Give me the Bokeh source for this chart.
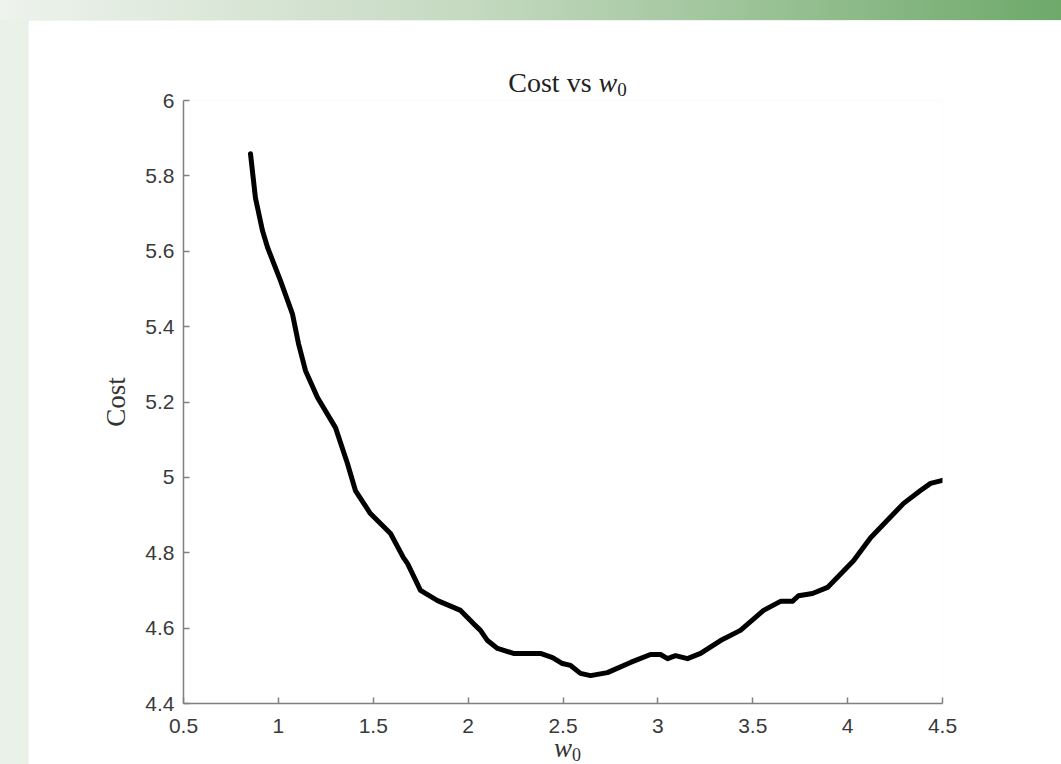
from bokeh.plotting import figure
from bokeh.models import Range1d, FixedTicker, Column, Div
from bokeh.embed import file_html
from bokeh.resources import INLINE

# ---- data ----
w0 = [0.853, 0.879, 0.916, 0.943, 1.011, 1.074, 1.106, 1.143, 1.206, 1.301,
      1.364, 1.406, 1.485, 1.591, 1.659, 1.681, 1.749, 1.839, 1.960, 2.028,
      2.065, 2.102, 2.155, 2.239, 2.381, 2.445, 2.497, 2.540, 2.592, 2.645,
      2.734, 2.856, 2.961, 3.014, 3.051, 3.093, 3.156, 3.225, 3.330, 3.435,
      3.557, 3.646, 3.709, 3.741, 3.815, 3.894, 4.031, 4.121, 4.295, 4.384,
      4.437, 4.500]
cost = [5.859, 5.742, 5.655, 5.610, 5.522, 5.434, 5.355, 5.283, 5.212, 5.132,
        5.037, 4.965, 4.904, 4.851, 4.787, 4.771, 4.700, 4.673, 4.647, 4.612,
        4.594, 4.567, 4.546, 4.533, 4.533, 4.522, 4.506, 4.501, 4.480, 4.474,
        4.482, 4.509, 4.530, 4.530, 4.519, 4.527, 4.519, 4.533, 4.567, 4.594,
        4.647, 4.671, 4.671, 4.686, 4.692, 4.708, 4.779, 4.840, 4.931, 4.965,
        4.984, 4.992]

x_ticks = [0.5, 1.0, 1.5, 2.0, 2.5, 3.0, 3.5, 4.0, 4.5]
x_tick_labels = ["0.5", "1", "1.5", "2", "2.5", "3", "3.5", "4", "4.5"]
y_ticks = [4.4, 4.6, 4.8, 5.0, 5.2, 5.4, 5.6, 5.8, 6.0]
y_tick_labels = ["4.4", "4.6", "4.8", "5", "5.2", "5.4", "5.6", "5.8", "6"]

title_main = "Cost vs"
var_name = "w"
var_sub = "0"
y_label = "Cost"

SERIF = "Liberation Serif"
SANS = "Liberation Sans"

p = figure(width=1033, height=744, output_backend="svg", toolbar_location=None,
           x_range=Range1d(0.5, 4.5), y_range=Range1d(4.4, 6.0),
           min_border_left=155, min_border_right=119,
           min_border_top=80, min_border_bottom=61)
p.margin = (20, 0, 0, 28)
p.background_fill_color = "white"
p.border_fill_color = "white"
p.outline_line_color = None
p.grid.visible = False

p.line(w0, cost, line_color="black", line_width=5, line_join="round", line_cap="round")

for ax, ticks, labels in ((p.xaxis[0], x_ticks, x_tick_labels),
                          (p.yaxis[0], y_ticks, y_tick_labels)):
    ax.ticker = FixedTicker(ticks=ticks)
    ax.major_label_overrides = {t: l for t, l in zip(ticks, labels)}
    ax.axis_line_color = "#808080"
    ax.axis_line_width = 1.5
    ax.major_tick_line_color = "#808080"
    ax.major_tick_line_width = 1.5
    ax.major_tick_in = 6
    ax.major_tick_out = 0
    ax.minor_tick_line_color = None
    ax.major_label_text_font = SANS
    ax.major_label_text_font_size = "21px"
    ax.major_label_text_color = "#3a3a3a"

p.xaxis[0].major_label_standoff = 15
p.yaxis[0].major_label_standoff = 9
p.yaxis[0].axis_label = y_label
p.yaxis[0].axis_label_text_font = SERIF
p.yaxis[0].axis_label_text_font_size = "27px"
p.yaxis[0].axis_label_text_font_style = "normal"
p.yaxis[0].axis_label_text_color = "#333333"
p.yaxis[0].axis_label_standoff = 11


def math_html(prefix, color, size, sub_size):
    return (
        f'<div style="position:absolute;left:0px;top:4px;width:759px;'
        f'text-align:center;font-family:\'{SERIF}\',serif;font-size:{size}px;'
        f'line-height:{size}px;color:{color};white-space:nowrap;">'
        f'{prefix}<i>{var_name}</i>'
        f'<span style="font-size:{sub_size}px;position:relative;top:4px;">{var_sub}</span></div>'
    )


# title: baseline near y=88; x label: baseline near y=756 (window pixels)
title_div = Div(text=math_html(title_main + " ", "#222222", 28, 19), width=759, height=40,
                styles={"position": "absolute", "left": "183px", "top": "60px",
                        "overflow": "visible"})
xlabel_div = Div(text=math_html("", "#333333", 27, 18), width=759, height=32,
                 styles={"position": "absolute", "left": "183px", "top": "726px",
                         "overflow": "visible"})

bg = ("linear-gradient(to right, #eef3ed 0%, #c4d9c0 45%, #6ea96a 100%) "
      "top left / 100% 20px no-repeat, #e9f1e8")
layout = Column(p, title_div, xlabel_div, width=1061, height=764, spacing=0,
                styles={"background": bg, "position": "relative"})

open("out.html", "w").write(file_html(layout, INLINE))
